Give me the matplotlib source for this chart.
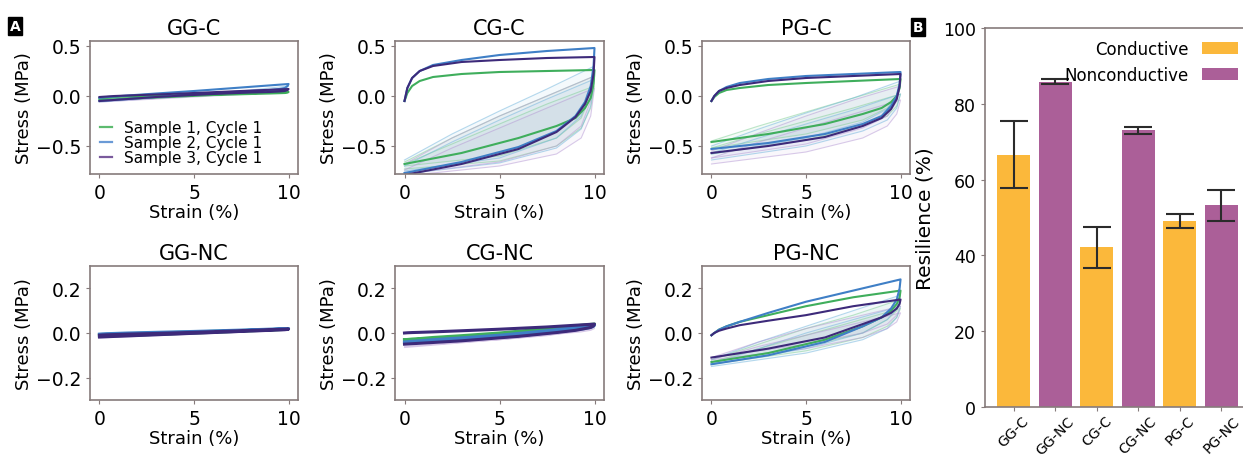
import matplotlib
matplotlib.use('Agg')
import matplotlib.pyplot as plt

# ---------------- data ----------------
# strain values (%) used for every cycle-1 trace (loading, then unloading)
x_load = [0, 0.15, 0.4, 0.8, 1.5, 3, 5, 7.5, 10]
x_unload = [10, 9.95, 9.8, 9.5, 9, 8, 6, 3, 0]
# coarser strain values for the faint later cycles
x_faint_load = [0, 2.5, 5, 7.5, 10]
x_faint_unload = [10, 9.8, 9.3, 8, 5, 0]

sample_labels = ['Sample 1, Cycle 1', 'Sample 2, Cycle 1', 'Sample 3, Cycle 1']

# cycle 1 stress (MPa), order: sample 1 (green), sample 2 (blue), sample 3 (purple)
gg_c_load = [[-0.02, -0.018, -0.015, -0.01, -0.005, 0.0, 0.01, 0.025, 0.04],
             [-0.02, -0.015, -0.01, -0.005, 0.005, 0.025, 0.05, 0.085, 0.12],
             [-0.01, -0.008, -0.005, 0.0, 0.005, 0.015, 0.03, 0.05, 0.07]]
gg_c_unload = [[0.04, 0.035, 0.03, 0.028, 0.025, 0.02, 0.01, -0.015, -0.04],
               [0.12, 0.1, 0.08, 0.07, 0.06, 0.05, 0.03, -0.01, -0.05],
               [0.07, 0.06, 0.05, 0.045, 0.04, 0.035, 0.02, -0.01, -0.05]]

cg_c_load = [[-0.05, 0.03, 0.1, 0.15, 0.19, 0.22, 0.24, 0.25, 0.26],
             [-0.05, 0.08, 0.18, 0.25, 0.31, 0.36, 0.41, 0.45, 0.48],
             [-0.05, 0.08, 0.18, 0.25, 0.3, 0.34, 0.36, 0.38, 0.39]]
cg_c_unload = [[0.26, 0.12, -0.02, -0.12, -0.22, -0.3, -0.42, -0.57, -0.68],
               [0.48, 0.3, 0.1, -0.06, -0.2, -0.35, -0.51, -0.66, -0.77],
               [0.39, 0.22, 0.05, -0.08, -0.21, -0.36, -0.53, -0.68, -0.79]]

pg_c_load = [[-0.05, -0.01, 0.03, 0.06, 0.08, 0.11, 0.13, 0.15, 0.17],
             [-0.05, 0.0, 0.05, 0.09, 0.13, 0.17, 0.2, 0.22, 0.24],
             [-0.05, 0.0, 0.05, 0.08, 0.11, 0.15, 0.18, 0.2, 0.22]]
pg_c_unload = [[0.17, 0.08, 0.0, -0.06, -0.12, -0.18, -0.28, -0.38, -0.46],
               [0.24, 0.12, 0.0, -0.1, -0.2, -0.28, -0.38, -0.47, -0.53],
               [0.22, 0.1, -0.03, -0.13, -0.22, -0.3, -0.41, -0.5, -0.57]]

gg_nc_load = [[-0.008, -0.007, -0.006, -0.005, -0.003, 0.0, 0.005, 0.011, 0.018],
              [-0.005, -0.004, -0.003, -0.002, 0.0, 0.003, 0.007, 0.013, 0.02],
              [-0.01, -0.009, -0.008, -0.007, -0.005, -0.002, 0.003, 0.01, 0.018]]
gg_nc_unload = [[0.018, 0.017, 0.016, 0.015, 0.013, 0.01, 0.003, -0.006, -0.014],
                [0.02, 0.019, 0.018, 0.017, 0.015, 0.012, 0.005, -0.005, -0.012],
                [0.018, 0.016, 0.015, 0.014, 0.012, 0.009, 0.002, -0.008, -0.018]]

cg_nc_load = [[-0.03, -0.029, -0.027, -0.025, -0.02, -0.012, 0.0, 0.02, 0.04],
              [-0.04, -0.039, -0.037, -0.035, -0.03, -0.022, -0.01, 0.01, 0.035],
              [0.0, 0.001, 0.002, 0.003, 0.005, 0.01, 0.017, 0.027, 0.04]]
cg_nc_unload = [[0.04, 0.035, 0.03, 0.027, 0.023, 0.015, 0.0, -0.018, -0.032],
                [0.035, 0.03, 0.025, 0.02, 0.015, 0.005, -0.012, -0.03, -0.045],
                [0.04, 0.032, 0.025, 0.02, 0.012, 0.002, -0.015, -0.035, -0.05]]

pg_nc_load = [[-0.01, 0.0, 0.015, 0.03, 0.05, 0.08, 0.12, 0.16, 0.19],
              [-0.01, 0.0, 0.015, 0.03, 0.05, 0.09, 0.14, 0.19, 0.24],
              [-0.01, 0.0, 0.01, 0.02, 0.035, 0.055, 0.08, 0.12, 0.15]]
pg_nc_unload = [[0.19, 0.16, 0.13, 0.1, 0.07, 0.03, -0.03, -0.09, -0.13],
                [0.24, 0.2, 0.15, 0.11, 0.07, 0.03, -0.04, -0.1, -0.14],
                [0.15, 0.13, 0.11, 0.09, 0.07, 0.04, -0.02, -0.07, -0.11]]

# later cycles (drawn faint): (sample index, loading stress, unloading stress)
gg_c_faint = [(1, [-0.04, -0.01, 0.02, 0.05, 0.1], [0.1, 0.07, 0.05, 0.03, 0.0, -0.06]),
              (2, [-0.05, -0.03, 0.0, 0.02, 0.05], [0.05, 0.04, 0.03, 0.02, -0.01, -0.06])]
cg_c_faint = [(0, [-0.66, -0.42, -0.2, 0.0, 0.2], [0.2, 0.0, -0.22, -0.42, -0.6, -0.7]),
              (0, [-0.68, -0.48, -0.28, -0.08, 0.1], [0.1, -0.12, -0.32, -0.5, -0.65, -0.73]),
              (1, [-0.64, -0.38, -0.15, 0.07, 0.3], [0.3, 0.05, -0.2, -0.42, -0.62, -0.75]),
              (1, [-0.7, -0.46, -0.24, -0.03, 0.17], [0.17, -0.1, -0.33, -0.52, -0.67, -0.78]),
              (2, [-0.68, -0.42, -0.2, 0.0, 0.2], [0.2, -0.05, -0.3, -0.5, -0.66, -0.78]),
              (2, [-0.74, -0.52, -0.32, -0.12, 0.08], [0.08, -0.2, -0.42, -0.58, -0.7, -0.8])]
pg_c_faint = [(0, [-0.45, -0.3, -0.16, -0.02, 0.12], [0.12, 0.0, -0.12, -0.24, -0.38, -0.52]),
              (0, [-0.52, -0.38, -0.25, -0.12, 0.02], [0.02, -0.1, -0.2, -0.3, -0.44, -0.58]),
              (1, [-0.5, -0.33, -0.17, -0.02, 0.15], [0.15, 0.0, -0.13, -0.26, -0.42, -0.58]),
              (1, [-0.57, -0.42, -0.28, -0.14, 0.02], [0.02, -0.12, -0.24, -0.35, -0.5, -0.64]),
              (2, [-0.55, -0.37, -0.2, -0.04, 0.1], [0.1, -0.05, -0.2, -0.32, -0.48, -0.62]),
              (2, [-0.62, -0.46, -0.32, -0.18, -0.04], [-0.04, -0.18, -0.3, -0.42, -0.56, -0.68])]
gg_nc_faint = [(2, [-0.02, -0.012, -0.005, 0.003, 0.012], [0.012, 0.01, 0.008, 0.004, -0.005, -0.022])]
cg_nc_faint = [(2, [-0.06, -0.045, -0.03, -0.012, 0.02], [0.02, 0.012, 0.005, -0.005, -0.03, -0.065]),
               (0, [-0.045, -0.03, -0.015, 0.005, 0.03], [0.03, 0.025, 0.015, 0.005, -0.02, -0.05])]
pg_nc_faint = [(0, [-0.12, -0.05, 0.02, 0.08, 0.15], [0.15, 0.1, 0.06, 0.0, -0.06, -0.13]),
               (0, [-0.13, -0.07, -0.01, 0.05, 0.11], [0.11, 0.07, 0.03, -0.02, -0.08, -0.14]),
               (1, [-0.12, -0.04, 0.03, 0.1, 0.17], [0.17, 0.11, 0.06, 0.0, -0.07, -0.14]),
               (1, [-0.14, -0.07, 0.0, 0.06, 0.12], [0.12, 0.07, 0.02, -0.03, -0.09, -0.15]),
               (2, [-0.11, -0.04, 0.02, 0.07, 0.12], [0.12, 0.08, 0.04, 0.0, -0.05, -0.11]),
               (2, [-0.12, -0.06, -0.01, 0.04, 0.09], [0.09, 0.05, 0.02, -0.02, -0.07, -0.12])]

# resilience bar chart
bar_labels = ['GG-C', 'GG-NC', 'CG-C', 'CG-NC', 'PG-C', 'PG-NC']
resilience = [66.6, 85.8, 42.1, 73.0, 49.0, 53.2]
resilience_err = [8.9, 0.7, 5.5, 0.9, 1.8, 4.0]

# ---------------- style ----------------
line_colors = ['#3fae5c', '#3f7fc6', '#3d2a7a']
legend_colors = ['#5dbb6f', '#6a9ad6', '#7a5a9c']
faint_colors = ['#7fcf95', '#6fb4dc', '#b497d4']
spine_color = '#867b7b'
orange = '#fbb83b'
purple = '#ab5f98'

W, H = 1243, 460
fig = plt.figure(figsize=(W / 100, H / 100), dpi=100)

# panel boxes in pixels: (left, top, right, bottom)
col_x = [(90, 298), (395, 604), (702, 910)]
row_y = [(42, 175), (267, 401)]

panels = [('GG-C', gg_c_load, gg_c_unload, gg_c_faint),
          ('CG-C', cg_c_load, cg_c_unload, cg_c_faint),
          ('PG-C', pg_c_load, pg_c_unload, pg_c_faint),
          ('GG-NC', gg_nc_load, gg_nc_unload, gg_nc_faint),
          ('CG-NC', cg_nc_load, cg_nc_unload, cg_nc_faint),
          ('PG-NC', pg_nc_load, pg_nc_unload, pg_nc_faint)]


def px_axes(left, top, right, bottom):
    return fig.add_axes([left / W, 1 - bottom / H, (right - left) / W, (bottom - top) / H])


def style_spines(ax):
    for sp in ax.spines.values():
        sp.set_color(spine_color)
        sp.set_linewidth(1.2)
    ax.tick_params(color=spine_color, labelsize=13.5, length=3)


for i, (name, load, unload, faint) in enumerate(panels):
    row, col = divmod(i, 3)
    ax = px_axes(col_x[col][0], row_y[row][0], col_x[col][1], row_y[row][1])

    # faint later cycles: lightly filled loop plus thin outline
    for s, fl, fu in faint:
        ax.fill(x_faint_load + x_faint_unload, fl + fu, color=faint_colors[s], alpha=0.07, lw=0)
        ax.plot(x_faint_load + x_faint_unload, fl + fu, color=faint_colors[s], alpha=0.5, lw=0.8)

    # cycle 1 of each sample
    lw = 2.2 if row == 1 and name != 'PG-NC' else 1.5
    for s in range(3):
        ax.plot(x_load + x_unload, load[s] + unload[s], color=line_colors[s], lw=lw)

    ax.set_xlim(-0.5, 10.5)
    ax.set_xticks([0, 5, 10])
    if row == 0:
        ax.set_ylim(-0.78, 0.55)
        ax.set_yticks([-0.5, 0.0, 0.5])
    else:
        ax.set_ylim(-0.3, 0.3)
        ax.set_yticks([-0.2, 0.0, 0.2])
    ax.set_title(name, fontsize=15, pad=5)
    ax.set_xlabel('Strain (%)', fontsize=13, labelpad=1)
    ax.set_ylabel('Stress (MPa)', fontsize=13, labelpad=2)
    style_spines(ax)

    if name == 'GG-C':
        handles = [plt.Line2D([], [], color=c, lw=1.6) for c in legend_colors]
        ax.legend(handles, sample_labels, loc='lower left', frameon=False, fontsize=11,
                  handlelength=0.8, handletextpad=0.8, labelspacing=0.0,
                  borderaxespad=0.1, bbox_to_anchor=(0.01, 0.01))

# ---------------- resilience bars ----------------
axb = px_axes(985, 29, 1250, 408)
pos = list(range(len(bar_labels)))
cond = [p for p in pos if p % 2 == 0]
noncond = [p for p in pos if p % 2 == 1]
err_style = dict(ecolor='#2b2b2b', elinewidth=1.5, capsize=10, capthick=1.5)
b1 = axb.bar(cond, [resilience[p] for p in cond], 0.8, yerr=[resilience_err[p] for p in cond],
             color=orange, label='Conductive', error_kw=err_style)
b2 = axb.bar(noncond, [resilience[p] for p in noncond], 0.8, yerr=[resilience_err[p] for p in noncond],
             color=purple, label='Nonconductive', error_kw=err_style)
axb.set_xlim(-0.69, 5.69)
axb.set_ylim(0, 100)
axb.set_yticks([0, 20, 40, 60, 80, 100])
axb.set_xticks(pos)
style_spines(axb)
axb.tick_params(axis='y', labelsize=12.5)
axb.tick_params(axis='x', pad=1.5)
axb.set_xticklabels(bar_labels, rotation=45, fontsize=10.2)
axb.set_ylabel('Resilience (%)', fontsize=14.5, labelpad=6)
axb.legend(loc='upper right', frameon=False, fontsize=12, markerfirst=False,
           handlelength=2.2, handleheight=0.7, labelspacing=0.5, borderaxespad=0.3)

# panel letters
for letter, x, y in [('A', 15, 27), ('B', 918, 28)]:
    fig.text(x / W, 1 - y / H, letter, color='white', fontsize=10, fontweight='bold',
             ha='center', va='center',
             bbox=dict(facecolor='black', edgecolor='black', boxstyle='square,pad=0.15'))

fig.savefig('out.png', dpi=100)
